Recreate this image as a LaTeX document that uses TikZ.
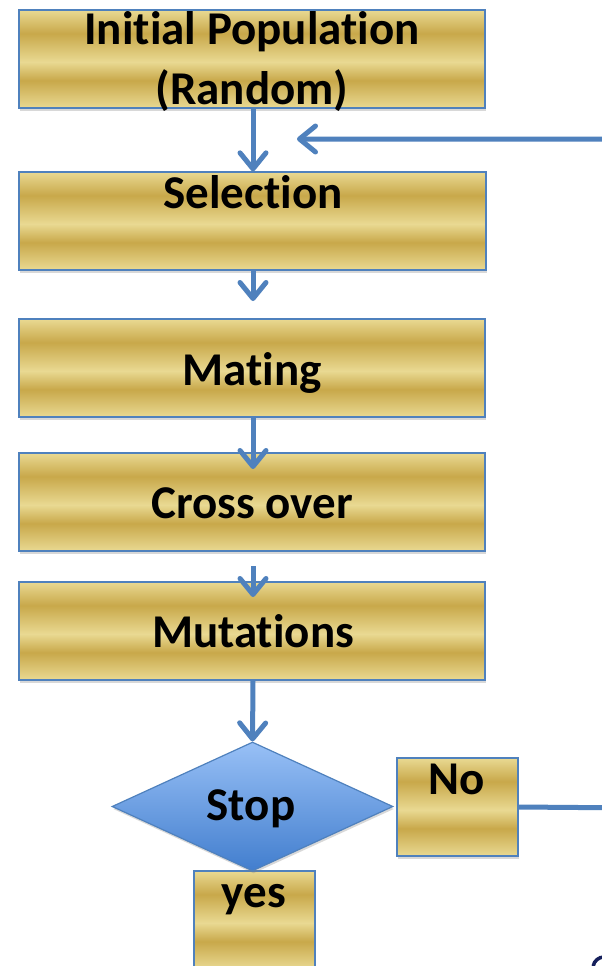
\documentclass[tikz,border=0pt]{standalone}
\usepackage{fontspec}
\setmainfont{Carlito}[Ligatures={NoCommon}]
\usetikzlibrary{arrows.meta,shapes.geometric,shadows,calc}
\definecolor{lnblue}{RGB}{79,129,189}
\definecolor{gl}{RGB}{233,217,146}
\definecolor{gd}{RGB}{200,168,74}
\definecolor{dtop}{RGB}{152,192,246}
\definecolor{dbot}{RGB}{66,126,206}
\definecolor{navy}{RGB}{22,32,92}
\pgfdeclareverticalshading{goldstripe}{100bp}{color(0bp)=(gl); color(25bp)=(gl); color(39bp)=(gd); color(48.5bp)=(gl); color(63bp)=(gd); color(75bp)=(gl); color(100bp)=(gl)}
\tikzset{
  goldbox/.style={draw=lnblue, line width=1.3pt, shading=goldstripe, minimum height=98pt, inner sep=0pt,
    drop shadow={shadow xshift=1pt, shadow yshift=-2.5pt, opacity=0.3}},
  txt/.style={font=\fontsize{47}{55}\selectfont\bfseries, inner sep=0pt, anchor=base},
  flow/.style={draw=lnblue, line width=5pt, -{Straight Barb[round,length=16pt,width=26pt]}},
}
\begin{document}
\begin{tikzpicture}[x=1pt,y=1pt]
\clip (0,0) rectangle (602,-966);
\fill[white] (0,0) rectangle (602,-966);
% boxes
\node[goldbox, minimum width=466pt] (init) at (252,-59) {};
\node[goldbox, minimum width=467pt] (sel) at (252.5,-221) {};
\node[goldbox, minimum width=466pt] (mat) at (252,-368) {};
\node[goldbox, minimum width=466pt] (cro) at (252,-502) {};
\node[goldbox, minimum width=466pt] (mut) at (252,-631) {};
\node[goldbox, minimum width=121pt] (no) at (457.5,-807) {};
\node[goldbox, minimum width=121pt] (yes) at (254.5,-920) {};
\node[diamond, draw=lnblue, line width=1.2pt, top color=dtop, bottom color=dbot,
      minimum width=281pt, minimum height=129pt, inner sep=0pt,
      drop shadow={shadow xshift=1pt, shadow yshift=-2.5pt, opacity=0.3}] (stop) at (252.5,-806.5) {};
% texts
\node[txt] (initA) at (252,-45) {Initial Population};
\node[txt] (initB) at (252,-104) {(Random)};
\node[txt] (selT) at (253,-208) {Selection};
\node[txt] (matT) at (252,-385) {Mating};
\node[txt] (croT) at (252,-518) {Cross over};
\node[txt] (mutT) at (253,-647) {Mutations};
\node[txt] (noT) at (457,-794) {No};
\node[txt] (stopT) at (251,-820) {Stop};
\node[txt] (yesT) at (254,-907) {yes};
% coordinates
\coordinate (a2) at (253,-301);
\coordinate (a3) at (253,-469);
\coordinate (s4) at (253,-566);
\coordinate (a4) at (253,-597);
\coordinate (fbr) at (640,-808);
\coordinate (fbtip) at (297,-139);
% connectors
\draw[flow] (init.south -| 253,0) -- (sel.north -| 253,0);
\draw[flow] (sel.south -| 253,0) -- (a2);
\draw[flow] (mat.south -| 253,0) -- (a3);
\draw[flow] (s4) -- (a4);
\draw[flow] (mut.south -| 253,0) -- (stop.north);
\draw[flow] (no.east) -- (fbr) |- (fbtip);
% fragment bottom right
\draw[navy, line width=3.5pt] (604,-968) ++(170:11) arc[start angle=170, end angle=90, radius=11];
\end{tikzpicture}
\end{document}
